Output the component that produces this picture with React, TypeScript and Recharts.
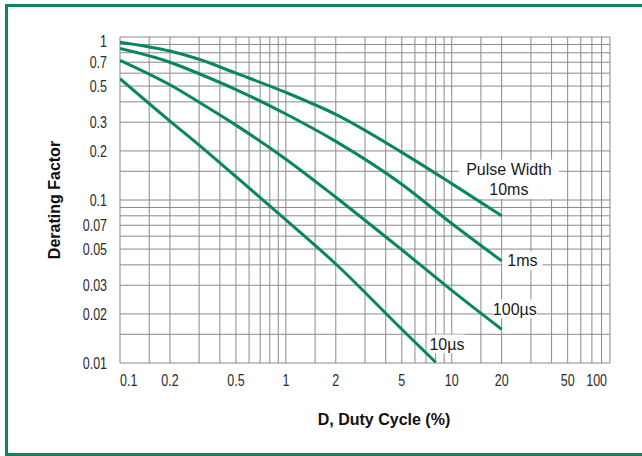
import { LineChart, Line, XAxis, YAxis, ReferenceLine, ReferenceDot, Label } from 'recharts';

// duty cycle (%) sample points
const dutyCycle = [0.1, 0.2, 0.3, 0.5, 1, 2, 5, 10, 20];
const factor10ms = [0.93, 0.82, 0.73, 0.6, 0.457, 0.335, 0.196, 0.126, 0.08];
const factor1ms = [0.85, 0.7, 0.595, 0.476, 0.337, 0.229, 0.125, 0.0717, 0.0423];
const factor100us = [0.72, 0.509, 0.398, 0.288, 0.178, 0.104, 0.0495, 0.0279, 0.0161];
const dutyCycle10us = [0.1, 0.2, 0.3, 0.5, 1, 2, 5, 8];
const factor10us = [0.555, 0.305, 0.217, 0.139, 0.0755, 0.0405, 0.0161, 0.0101];

const xTicks = [0.1, 0.2, 0.5, 1, 2, 5, 10, 20, 50, 100];
const yTicks = [0.01, 0.02, 0.03, 0.05, 0.07, 0.1, 0.2, 0.3, 0.5, 0.7, 1];
const xGrid = [0.1, 0.15, 0.2, 0.3, 0.4, 0.5, 0.6, 0.7, 0.8, 0.9, 1, 1.5, 2, 3, 4, 5, 6, 7, 8, 9, 10, 15, 20, 30, 40, 50, 60, 70, 80, 90];
const yGrid = [0.01, 0.015, 0.02, 0.03, 0.04, 0.05, 0.06, 0.07, 0.08, 0.09, 0.1, 0.15, 0.2, 0.3, 0.4, 0.5, 0.6, 0.7, 0.8, 0.9, 1];

// curve labels (anchor in data coords)
const noteText = [['Pulse Width', '10ms'], ['1ms'], ['100µs'], ['10µs']];
const noteX = [22.1, 26.7, 24, 9.35];
const noteY = [0.134, 0.0424, 0.0215, 0.0131];
const noteW = [100, 40, 44, 36];

const W = 642;
const H = 456;
const PLOT_RIGHT = 610;
const GREEN = '#08875b';
const GRID = '#8a8a8a';
const SANS = "'Liberation Sans', Arial, Helvetica, sans-serif";
const SQUEEZE = 0.78; // tick font is a condensed face

const toRows = (xs: number[], ys: number[]) => xs.map((d, i) => ({ d, f: ys[i] }));

const series = [
  { name: '10ms', rows: toRows(dutyCycle, factor10ms) },
  { name: '1ms', rows: toRows(dutyCycle, factor1ms) },
  { name: '100us', rows: toRows(dutyCycle, factor100us) },
  { name: '10us', rows: toRows(dutyCycle10us, factor10us) },
];

const TickText = ({ x, y, anchor, dy, value }: any) => (
  <text
    transform={`translate(${x},${y}) scale(${SQUEEZE},1)`}
    dy={dy}
    textAnchor={anchor}
    fill="#2b2b2b"
    fontSize={16}
    fontFamily={SANS}
  >
    {value}
  </text>
);

const XTick = (props: any) => {
  const { x, y, payload, index } = props;
  const first = index === 0;
  const last = index === xTicks.length - 1;
  const tx = last ? Math.min(x, PLOT_RIGHT - 3) : x;
  return <TickText x={tx} y={y} dy={15} anchor={first ? 'start' : last ? 'end' : 'middle'} value={payload.value} />;
};

const YTick = (props: any) => {
  const { x, y, payload } = props;
  const nudge = payload.value === 1 ? 4 : 0;
  return <TickText x={x} y={y + nudge} dy={5.7} anchor="end" value={payload.value} />;
};

const noteShape = (i: number) => (p: any) => {
  const lines = noteText[i];
  const lh = 20.7;
  const h = lines.length * lh - 2;
  const w = noteW[i];
  return (
    <g>
      <rect x={p.cx - w / 2} y={p.cy - h / 2} width={w} height={h} fill="#fff" />
      {lines.map((t, k) => (
        <text
          key={k}
          x={p.cx}
          y={p.cy - ((lines.length - 1) * lh) / 2 + k * lh + 5.7}
          textAnchor="middle"
          fill="#1a1a1a"
          fontSize={16}
          fontFamily={SANS}
        >
          {t}
        </text>
      ))}
    </g>
  );
};

export default function App() {
  return (
    <div style={{ position: 'absolute', left: 0, top: 0, width: W, height: H, overflow: 'hidden', background: '#fff' }}>
      <div
        style={{
          position: 'absolute',
          left: 5,
          top: 4,
          width: W - 5,
          height: 452,
          boxSizing: 'border-box',
          borderTop: `3px solid ${GREEN}`,
          borderLeft: `3px solid ${GREEN}`,
          borderBottom: `3px solid ${GREEN}`,
        }}
      />
      <div style={{ position: 'absolute', left: 0, top: 0 }}>
        <LineChart width={W} height={H} margin={{ top: 37, right: W - PLOT_RIGHT, bottom: 0, left: 0 }}>
          <XAxis
            dataKey="d"
            type="number"
            scale="log"
            domain={[0.1, 90]}
            allowDataOverflow
            ticks={xTicks}
            interval={0}
            tick={<XTick />}
            tickLine={false}
            axisLine={false}
            height={93}
          >
            <Label
              value="D, Duty Cycle (%)"
              position="insideBottom"
              offset={31}
              dx={19}
              fill="#111"
              fontSize={16}
              fontWeight="bold"
              fontFamily={SANS}
            />
          </XAxis>
          <YAxis
            type="number"
            scale="log"
            domain={[0.01, 1]}
            allowDataOverflow
            ticks={yTicks}
            interval={0}
            tickLine={false}
            axisLine={false}
            tickMargin={7}
            width={120}
            tick={<YTick />}
          >
            <Label
              value="Derating Factor"
              position="insideLeft"
              angle={-90}
              offset={54}
              fill="#111"
              fontSize={16}
              fontWeight="bold"
              fontFamily={SANS}
              style={{ textAnchor: 'middle' }}
            />
          </YAxis>
          {xGrid.map((v) => (
            <ReferenceLine key={`x${v}`} x={v} stroke={GRID} strokeWidth={1} zIndex={-50} />
          ))}
          {yGrid.map((v) => (
            <ReferenceLine key={`y${v}`} y={v} stroke={GRID} strokeWidth={1} zIndex={-50} />
          ))}
          {noteText.map((_, i) => (
            <ReferenceDot
              key={`n${i}`}
              x={noteX[i]}
              y={noteY[i]}
              ifOverflow="visible"
              shape={noteShape(i)}
              zIndex={-40}
            />
          ))}
          {series.map((s) => (
            <Line
              key={s.name}
              data={s.rows}
              dataKey="f"
              type="monotone"
              stroke={GREEN}
              strokeWidth={3}
              dot={false}
              activeDot={false}
              isAnimationActive={false}
            />
          ))}
        </LineChart>
      </div>
    </div>
  );
}
